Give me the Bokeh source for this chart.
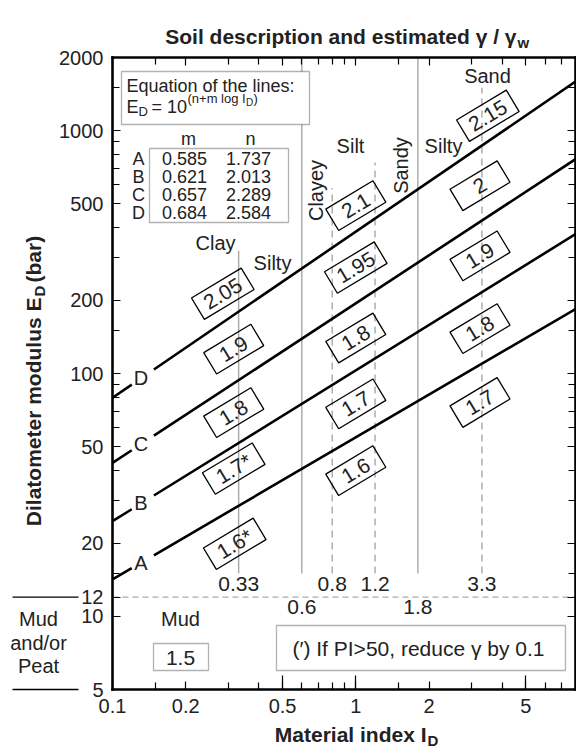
import math
import numpy as np
from bokeh.plotting import figure
from bokeh.models import (LogAxis, FixedTicker, Label, Arrow, Range1d,
                          BoxAnnotation, CustomJSTickFormatter)
from bokeh.embed import file_html
from bokeh.resources import INLINE
from bokeh.core.properties import value

FONT = "Liberation Sans"

# ---------------- data ----------------
line_names = ["A", "B", "C", "D"]
line_m = [0.585, 0.621, 0.657, 0.684]
line_n = [1.737, 2.013, 2.289, 2.584]
line_m_text = ["0.585", "0.621", "0.657", "0.684"]
line_n_text = ["1.737", "2.013", "2.289", "2.584"]

gamma_text = ["2.05", "1.9", "1.8", "1.7*", "1.6*",
              "2.1", "1.95", "1.8", "1.7", "1.6",
              "2.15", "2", "1.9", "1.8", "1.7"]
gamma_id = [0.284, 0.315, 0.315, 0.315, 0.318,
            1.0, 1.0, 1.0, 1.0, 1.0,
            3.49, 3.24, 3.24, 3.24, 3.24]
gamma_ed = [213, 126, 69, 40.6, 19.9,
            491, 273, 140, 75, 39.8,
            1151, 593, 305, 153, 76]

boundary_id = [0.33, 0.6, 0.8, 1.2, 1.8, 3.3]
boundary_label = ["0.33", "0.6", "0.8", "1.2", "1.8", "3.3"]
boundary_top = [320, 2000, 580, 740, 2000, 1500]
boundary_dashed = [False, False, True, True, False, True]
boundary_row = [0, 1, 0, 0, 1, 0]
boundary_bottom = 15
mud_limit = 12
mud_gamma = "1.5"

x_major = [0.1, 0.2, 0.5, 1, 2, 5]
x_minor = [0.15, 0.3, 0.4, 0.6, 0.7, 0.8, 0.9, 1.5, 3, 4, 6, 7]
x_long = [0.5, 1, 5]
y_major = [5, 10, 12, 20, 50, 100, 200, 500, 1000, 2000]
y_minor = [15, 30, 40, 60, 70, 80, 90, 150, 300, 400, 600, 700, 800, 900, 1500]

X_MIN, X_MAX = 0.1, 8
Y_MIN, Y_MAX = 5, 2000

# ---------------- layout helpers (annotation placement, in canvas pixels) ----------------
W, H = 576, 751
FL, FR, FT, FB = 112, 575, 57, 689


def X(px):
    return X_MIN * (X_MAX / X_MIN) ** ((px - FL) / (FR - FL))


def Y(py):
    return Y_MIN * (Y_MAX / Y_MIN) ** ((FB - py) / (FB - FT))


p = figure(width=W, height=H, x_axis_type="log", y_axis_type="log",
           x_range=Range1d(X(0), X(W)), y_range=Range1d(Y(H), Y(0)),
           output_backend="svg", toolbar_location=None, title=None,
           min_border=0, min_border_left=0, min_border_right=0,
           min_border_top=0, min_border_bottom=0)
p.grid.visible = False
p.outline_line_color = None
p.background_fill_color = "white"
p.border_fill_color = "white"

fmt = CustomJSTickFormatter(code="return String(tick)")
blank = CustomJSTickFormatter(code="return ''")


def style_axis(ax, ticks, minor, labels, loc, bounds):
    ax.fixed_location = loc
    ax.bounds = bounds
    ax.ticker = FixedTicker(ticks=ticks, minor_ticks=minor)
    ax.axis_line_color = "black"
    ax.axis_line_width = 2.6
    ax.axis_line_cap = "square"
    ax.major_tick_in = 8
    ax.major_tick_out = 0
    ax.minor_tick_in = 7
    ax.minor_tick_out = 0
    ax.major_tick_line_color = "black"
    ax.minor_tick_line_color = "black"
    ax.major_tick_line_width = 1.2
    ax.minor_tick_line_width = 1.2
    ax.axis_label = None
    if labels:
        ax.formatter = fmt
        ax.major_label_text_font = FONT
        ax.major_label_text_font_size = "20px"
        ax.major_label_text_color = "#222222"
    else:
        ax.formatter = blank
        ax.major_label_standoff = 0


style_axis(p.xaxis[0], x_major, x_minor, True, Y_MIN, (X_MIN, X_MAX))
p.xaxis[0].major_label_standoff = 9
style_axis(p.yaxis[0], y_major, y_minor, True, X_MIN, (Y_MIN, Y_MAX))
p.yaxis[0].major_label_standoff = 9

# longer ticks at 0.5, 1 and 5 on the bottom axis
long_ax = LogAxis()
style_axis(long_ax, x_long, [], False, Y_MIN, (X_MIN, X_MAX))
long_ax.major_tick_in = 14
long_ax.axis_line_color = None
p.add_layout(long_ax, "below")

top_ax = LogAxis()
style_axis(top_ax, x_major, x_minor, False, Y_MAX, (X_MIN, X_MAX))
p.add_layout(top_ax, "above")
right_ax = LogAxis()
style_axis(right_ax, y_major, y_minor, False, X_MAX, (Y_MIN, Y_MAX))
p.add_layout(right_ax, "right")

# ---------------- boundaries ----------------
p.segment(x0=[X_MIN], y0=[mud_limit], x1=[X_MAX], y1=[mud_limit],
          line_color="#aaaaaa", line_dash="6 4", line_width=1.2)
for bx, top, dashed in zip(boundary_id, boundary_top, boundary_dashed):
    p.segment(x0=[bx], y0=[boundary_bottom], x1=[bx], y1=[top],
              line_color="#a8a8a8", line_width=1.4,
              line_dash="7 5" if dashed else "solid")

row_y = [13.6, 10.9]
p.text(x=boundary_id, y=[row_y[r] for r in boundary_row], text=boundary_label,
       text_font=value(FONT), text_font_size="21px", text_color="#222222",
       text_align="center", text_baseline="middle")

# ---------------- correlation lines ----------------
gap_lo, gap_hi, label_x = 0.12, 0.148, 0.131
for name, m, n in zip(line_names, line_m, line_n):
    for xs in (np.array([X_MIN, gap_lo]), np.array([gap_hi, X_MAX])):
        p.line(xs, 10 ** (n + m * np.log10(xs)), line_color="black", line_width=2.6)
p.text(x=[label_x] * 4,
       y=[10 ** (n + m * math.log10(label_x)) for m, n in zip(line_m, line_n)],
       text=line_names, text_font=value(FONT), text_font_size="20px",
       text_color="#222222", text_align="center", text_baseline="middle")

# ---------------- gamma boxes ----------------
ang = math.radians(31)
p.rect(x=gamma_id, y=gamma_ed, width=[58 if len(t) > 3 else 55 for t in gamma_text],
       height=25, width_units="screen", height_units="screen", angle=ang,
       fill_color=None, line_color="black", line_width=1.3)
p.text(x=gamma_id, y=gamma_ed, text=gamma_text, angle=ang,
       text_font=value(FONT), text_font_size="21px", text_color="#222222",
       text_align="center", text_baseline="middle")


# ---------------- text annotations ----------------
def lab(px, py, text, size="20px", angle=0, align="center", baseline="middle",
        bold=False, color="#222222"):
    p.add_layout(Label(x=X(px), y=Y(py), text=text, text_font=FONT,
                       text_font_size=size, text_color=color, text_align=align,
                       text_baseline=baseline, angle=angle, angle_units="deg",
                       text_font_style="bold" if bold else "normal"))


lab(215, 242, "Clay")
lab(272, 262, "Silty")
lab(350, 145, "Silt")
lab(315, 190, "Clayey", angle=90)
lab(400, 165, "Sandy", angle=90)
lab(443, 145, "Silty")
lab(487, 75, "Sand")
lab(180, 618, "Mud")

# mud gamma box
p.add_layout(BoxAnnotation(left=X(153), right=X(208), top=Y(643), bottom=Y(670),
                           fill_color="white", fill_alpha=1, line_color="black",
                           line_width=1.3))
lab(180, 657, mud_gamma, size="21px")

# note box
p.add_layout(BoxAnnotation(left=X(276), right=X(565), top=Y(625), bottom=Y(670),
                           fill_color="white", fill_alpha=1, line_color="black",
                           line_width=1.3))
lab(418, 648, "(\u2032) If PI>50, reduce \u03b3 by 0.1", size="21px")

# equation box
p.add_layout(BoxAnnotation(left=X(121), right=X(309), top=Y(71), bottom=Y(124),
                           fill_color="white", fill_alpha=1, line_color="black",
                           line_width=1.3))
lab(126, 85, "Equation of the lines:", size="18px", align="left")
lab(126, 106, "E", size="18px", align="left")
lab(138, 111, "D", size="13px", align="left")
lab(151, 106, "= 10", size="18px", align="left")
lab(187, 98, "(n+m log I", size="13px", align="left")
lab(245.5, 102, "D", size="10px", align="left")
lab(253, 98, ")", size="13px", align="left")

# table
p.add_layout(BoxAnnotation(left=X(149), right=X(288), top=Y(148), bottom=Y(222),
                           fill_color="white", fill_alpha=1, line_color="black",
                           line_width=1.3))
lab(188, 138, "m", size="18px")
lab(250, 138, "n", size="18px")
for i, (nm, mt, nt) in enumerate(zip(line_names, line_m_text, line_n_text)):
    yy = 158 + i * 18
    lab(138, yy, nm, size="18px")
    lab(184, yy, mt, size="18px")
    lab(248, yy, nt, size="18px")

# ---------------- left margin: mud and/or peat ----------------
for lvl in (mud_limit, Y_MIN):
    p.add_layout(Arrow(x_start=X(12), y_start=lvl, x_end=X(78), y_end=lvl,
                       start=None, end=None, line_color="black", line_width=1.3))
lab(38, 618, "Mud")
lab(38, 642, "and/or")
lab(38, 665, "Peat")

# ---------------- titles ----------------
lab(516, 36, "Soil description and estimated \u03b3 / \u03b3", size="21px",
    align="right", bold=True)
lab(517, 42, "w", size="15px", align="left", bold=True)

lab(426, 734, "Material index I", size="21px", align="right", bold=True)
lab(427, 740, "D", size="15px", align="left", bold=True)

lab(33, 297, "Dilatometer modulus E", size="21px", angle=90, align="right", bold=True)
lab(39, 296, "D", size="15px", angle=90, align="left", bold=True)
lab(33, 282, "(bar)", size="21px", angle=90, align="left", bold=True)

open("out.html", "w").write(file_html(p, INLINE))
